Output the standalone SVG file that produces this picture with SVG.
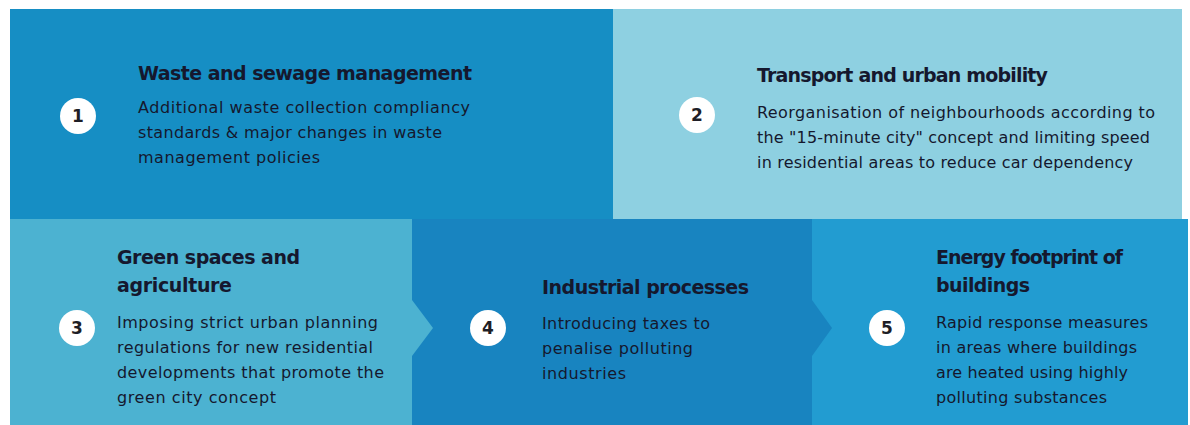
<svg xmlns="http://www.w3.org/2000/svg" width="1190" height="425" viewBox="0 0 1190 425">
<defs>
<style>
.title{font-family:"DejaVu Sans","Liberation Sans",sans-serif;font-weight:bold;font-size:19px;fill:#15182e}
.body{font-family:"DejaVu Sans","Liberation Sans",sans-serif;font-size:16px;fill:#15182e}
.num{font-family:"DejaVu Sans","Liberation Sans",sans-serif;font-weight:bold;font-size:17px;fill:#1e1e26;text-anchor:middle}
.badge{fill:#ffffff}
</style>
</defs>
<rect x="0" y="0" width="1190" height="425" fill="#ffffff"/>

<g id="node1">
<rect x="10" y="9" width="603" height="210" fill="#168ec4"/>
<circle class="badge" cx="78" cy="116" r="18"/>
<text class="num" x="78" y="122">1</text>
<text class="title" x="138" y="80" textLength="334" lengthAdjust="spacing">Waste and sewage management</text>
<text class="body" x="138" y="113" textLength="332" lengthAdjust="spacing">Additional waste collection compliancy</text>
<text class="body" x="138" y="138" textLength="304" lengthAdjust="spacing">standards &amp; major changes in waste</text>
<text class="body" x="138" y="163" textLength="182" lengthAdjust="spacing">management policies</text>
</g>

<g id="node2">
<rect x="613" y="9" width="569" height="210" fill="#8ed0e1"/>
<circle class="badge" cx="697" cy="115" r="18"/>
<text class="num" x="697" y="121">2</text>
<text class="title" x="757" y="82" textLength="291" lengthAdjust="spacing">Transport and urban mobility</text>
<text class="body" x="757" y="118" textLength="398" lengthAdjust="spacing">Reorganisation of neighbourhoods according to</text>
<text class="body" x="757" y="143" textLength="393" lengthAdjust="spacing">the "15-minute city" concept and limiting speed</text>
<text class="body" x="757" y="168" textLength="376" lengthAdjust="spacing">in residential areas to reduce car dependency</text>
</g>

<g id="node3">
<rect x="10" y="219" width="403" height="206" fill="#4cb2d1"/>
<circle class="badge" cx="77" cy="328" r="18"/>
<text class="num" x="77" y="334">3</text>
<text class="title" x="117" y="264" textLength="183" lengthAdjust="spacing">Green spaces and</text>
<text class="title" x="117" y="292" textLength="115" lengthAdjust="spacing">agriculture</text>
<text class="body" x="117" y="328" textLength="261" lengthAdjust="spacing">Imposing strict urban planning</text>
<text class="body" x="117" y="353" textLength="256" lengthAdjust="spacing">regulations for new residential</text>
<text class="body" x="117" y="378" textLength="267" lengthAdjust="spacing">developments that promote the</text>
<text class="body" x="117" y="403" textLength="159" lengthAdjust="spacing">green city concept</text>
</g>

<g id="node4">
<rect x="412" y="219" width="401" height="206" fill="#1884c0"/>
<circle class="badge" cx="488" cy="328" r="18"/>
<text class="num" x="488" y="334">4</text>
<text class="title" x="542" y="294" textLength="207" lengthAdjust="spacing">Industrial processes</text>
<text class="body" x="542" y="329" textLength="168" lengthAdjust="spacing">Introducing taxes to</text>
<text class="body" x="542" y="354" textLength="151" lengthAdjust="spacing">penalise polluting</text>
<text class="body" x="542" y="379" textLength="84" lengthAdjust="spacing">industries</text>
</g>

<g id="node5">
<rect x="812" y="219" width="376" height="206" fill="#229cd1"/>
<circle class="badge" cx="887" cy="328" r="18"/>
<text class="num" x="887" y="334">5</text>
<text class="title" x="936" y="264" textLength="187" lengthAdjust="spacing">Energy footprint of</text>
<text class="title" x="936" y="292" textLength="94" lengthAdjust="spacing">buildings</text>
<text class="body" x="936" y="328" textLength="212" lengthAdjust="spacing">Rapid response measures</text>
<text class="body" x="936" y="353" textLength="201" lengthAdjust="spacing">in areas where buildings</text>
<text class="body" x="936" y="378" textLength="192" lengthAdjust="spacing">are heated using highly</text>
<text class="body" x="936" y="403" textLength="171" lengthAdjust="spacing">polluting substances</text>
</g>

<g id="connectors">
<polygon points="412,300 433,328 412,356" fill="#4cb2d1"/>
<polygon points="812,300 832,328 812,356" fill="#1884c0"/>
</g>
</svg>
